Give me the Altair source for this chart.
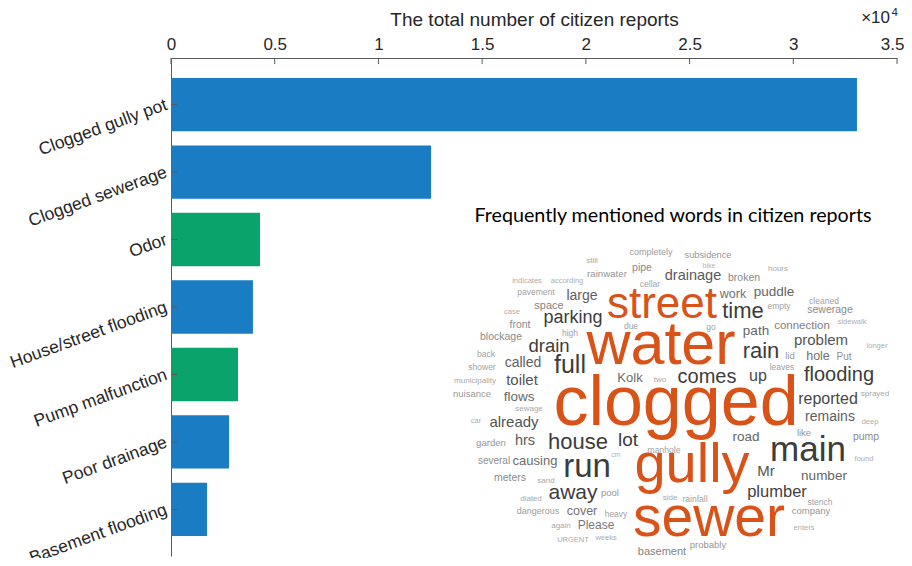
import altair as alt
import pandas as pd

# ---------------- bar chart data ----------------
categories = ["Clogged gully pot", "Clogged sewerage", "Odor", "House/street flooding",
              "Pump malfunction", "Poor drainage", "Basement flooding"]
report_counts = [33070, 12540, 4290, 3950, 3230, 2800, 1740]
report_groups = ["blue", "blue", "green", "blue", "green", "blue", "blue"]
x_tick_values = [0, 5000, 10000, 15000, 20000, 25000, 30000, 35000]
x_max = 35000
exponent_base = ["×10"]
exponent_power = ["4"]

# ---------------- word cloud data ----------------
hot_words = ["street", "water", "clogged", "gully", "sewer"]
hot_x = [662, 661, 676, 692, 709]
hot_y = [305, 347, 405, 466, 520]
hot_size = [44, 61, 70, 56, 57]

words = ["main", "run", "full", "time", "rain", "house", "flooding", "comes", "away", "parking",
         "drain", "lot", "large", "puddle", "problem", "reported", "remains", "already", "called",
         "toilet", "flows", "hrs", "causing", "cover", "Please", "up", "path", "road", "Mr",
         "plumber", "number", "work", "drainage", "Kolk", "connection", "sewerage", "broken",
         "subsidence", "pipe", "rainwater", "space", "front", "blockage", "lid", "hole", "Put",
         "pump", "like", "manhole", "meters", "several", "garden", "dangerous", "company",
         "probably", "basement", "completely", "pool", "rainfall", "stench", "heavy", "cellar",
         "still", "bike", "hours", "indicates", "according", "pavement", "case", "high", "due",
         "go", "empty", "cleaned", "sidewalk", "longer", "leaves", "sprayed", "deep", "found",
         "enters", "back", "shower", "municipality", "nuisance", "sewage", "car", "cm", "side",
         "sand", "dialed", "again", "URGENT", "weeks", "two"]
word_x = [808, 587, 570, 743, 761, 578, 839, 707, 573, 573,
          549, 628, 582, 774, 821, 828, 830, 514, 523,
          522, 519, 525, 535, 582, 596, 758, 756, 746, 766,
          777, 824, 733, 693, 630, 802, 830, 744,
          708, 642, 607, 549, 520, 501, 790, 818, 844,
          866, 804, 664, 510, 494, 491, 538, 811,
          708, 662, 651, 610, 695, 820, 616, 650,
          592, 709, 778, 527, 567, 536, 512, 570, 631,
          711, 779, 824, 852, 877, 782, 875, 870, 864,
          804, 486, 482, 475, 472, 529, 476, 616, 670,
          546, 531, 561, 573, 606, 660]
word_y = [451, 468, 366, 312, 352, 443, 376, 378, 494, 319,
          347, 441, 296, 292, 341, 400, 418, 423, 364,
          381, 398, 442, 462, 512, 526, 377, 332, 438, 472,
          493, 477, 294, 276, 379, 327, 311, 278,
          255, 268, 274, 306, 326, 338, 357, 357, 358,
          438, 434, 451, 479, 462, 444, 512, 512,
          546, 553, 252, 494, 500, 503, 515, 284,
          261, 266, 269, 281, 281, 292, 313, 334, 327,
          328, 306, 301, 323, 347, 368, 395, 423, 460,
          529, 355, 368, 382, 395, 410, 422, 456, 499,
          482, 500, 527, 541, 539, 381]
word_size = [35, 33, 25, 22, 22, 22, 20, 20, 21, 18,
             18.5, 19, 14, 13.5, 15, 16, 14, 15, 14,
             15, 13.5, 14.5, 13, 12.5, 12, 16, 13.5, 13.5, 15,
             16.5, 13.5, 12.5, 14.5, 13, 11.5, 10.5, 10.5,
             9.3, 10.5, 9.7, 11, 10.5, 10.5, 9.5, 12.5, 10,
             10.5, 9.5, 8.6, 10.5, 10, 9.6, 9, 9.5,
             9.5, 11, 9, 9.5, 8.5, 8.5, 8.5, 8.5,
             8, 7, 8, 7.5, 7.5, 8.5, 7.5, 8.5, 8.5,
             8.5, 8.5, 8.5, 7.5, 7.5, 8.5, 8, 7.5, 7.5,
             7.5, 8.5, 8.5, 8, 9.5, 8, 7.5, 7, 8,
             8, 8, 8, 7.5, 7.5, 8]

cloud_title = ["Frequently mentioned words in citizen reports"]

FONT = "Liberation Sans"
TEXT = "#262626"
AXIS = "#5a5a5a"

bars_df = pd.DataFrame({"category": categories, "count": report_counts, "group": report_groups})
xt_df = pd.DataFrame({"count": x_tick_values})
yt_df = pd.DataFrame({"category": categories})

bars = alt.Chart(bars_df).mark_bar().encode(
    x=alt.X("count:Q",
            scale=alt.Scale(domain=[0, x_max], nice=False, zero=True),
            axis=alt.Axis(orient="top", values=x_tick_values,
                          labelExpr="format(datum.value / 10000, '~g')",
                          title="The total number of citizen reports",
                          titleFont=FONT, titleFontSize=19, titleFontWeight="normal",
                          titleColor=TEXT, titlePadding=6,
                          labelFont=FONT, labelFontSize=17, labelColor=TEXT, labelPadding=5,
                          labelAlign={"condition": {"test": f"datum.value == {x_max}",
                                                    "value": "right"},
                                      "value": "center"},
                          labelOffset={"condition": {"test": f"datum.value == {x_max}",
                                                     "value": 7},
                                       "value": 0},
                          ticks=False, grid=False, domainColor=AXIS, domainWidth=1,
                          labelFlush=False)),
    y=alt.Y("category:N", sort=categories,
            scale=alt.Scale(paddingInner=0.21, paddingOuter=0.295),
            axis=alt.Axis(title=None, labelAngle=340, labelAlign="right", labelBaseline="middle",
                          labelFont=FONT, labelFontSize=17.5, labelColor=TEXT, labelPadding=5,
                          ticks=False, grid=False, domainColor=AXIS, domainWidth=1)),
    color=alt.Color("group:N",
                    scale=alt.Scale(domain=["blue", "green"], range=["#1a7cc3", "#0aa36b"]),
                    legend=None),
)

x_ticks = alt.Chart(xt_df).mark_rule(color=AXIS, strokeWidth=1).encode(
    x="count:Q", y=alt.value(0), y2=alt.value(6)
)
y_ticks = alt.Chart(yt_df).mark_rule(color=AXIS, strokeWidth=1).encode(
    y=alt.Y("category:N", sort=categories), x=alt.value(0), x2=alt.value(6)
)

exp_df = pd.DataFrame({"count": [x_max], "base": exponent_base, "power": exponent_power})
exp_base = alt.Chart(exp_df).mark_text(font=FONT, fontSize=17, fontWeight="normal",
                                       color=TEXT, align="right", baseline="middle",
                                       dx=-7).encode(
    x="count:Q", y=alt.value(-40), text="base:N"
)
exp_pow = alt.Chart(exp_df).mark_text(font=FONT, fontSize=11.5, fontWeight="normal",
                                      color=TEXT, align="right", baseline="middle",
                                      dx=1).encode(
    x="count:Q", y=alt.value(-45), text="power:N"
)

bar_layer = alt.layer(bars, x_ticks, y_ticks, exp_base, exp_pow)

hot_df = pd.DataFrame({"word": hot_words, "cx": hot_x, "cy": hot_y, "fs": hot_size})
word_df = pd.DataFrame({"word": words, "cx": word_x, "cy": word_y, "fs": word_size})
title_df = pd.DataFrame({"word": cloud_title, "cx": [673], "cy": [216]})

cx_enc = alt.X("cx:Q", scale=alt.Scale(domain=[171, 897], nice=False, zero=False), axis=None)
cy_enc = alt.Y("cy:Q", scale=alt.Scale(domain=[58.3, 556.7], nice=False, zero=False, reverse=True),
               axis=None)

hot = alt.Chart(hot_df).mark_text(color="#d95319", align="center", baseline="middle",
                                  font=FONT, fontWeight="normal").encode(
    x=cx_enc, y=cy_enc, text="word:N", size=alt.Size("fs:Q", scale=None, legend=None)
)
others = alt.Chart(word_df).mark_text(align="center", baseline="middle",
                                      font=FONT, fontWeight="normal").encode(
    x=cx_enc, y=cy_enc, text="word:N", size=alt.Size("fs:Q", scale=None, legend=None),
    color=alt.Color("fs:Q", scale=alt.Scale(type="linear", domain=[7, 17],
                                            range=["#b4b4b4", "#3c3c3c"],
                                            interpolate="rgb", clamp=True), legend=None)
)
ctitle = alt.Chart(title_df).mark_text(align="center", baseline="middle", font="Lato",
                                       fontWeight="normal", fontSize=19.7,
                                       color="#000000").encode(
    x=cx_enc, y=cy_enc, text="word:N"
)

cloud_layer = alt.layer(hot, others, ctitle)

chart = alt.layer(bar_layer, cloud_layer).resolve_scale(
    x="independent", y="independent", color="independent", size="independent"
).properties(
    width=726, height=498,
    padding={"left": 163, "top": 50, "right": 7, "bottom": 2},
    autosize=alt.AutoSizeParams(type="none"),
).configure(font=FONT).configure_view(stroke=None)

chart.save("out.html", embed_options={"renderer": "svg", "actions": False})
